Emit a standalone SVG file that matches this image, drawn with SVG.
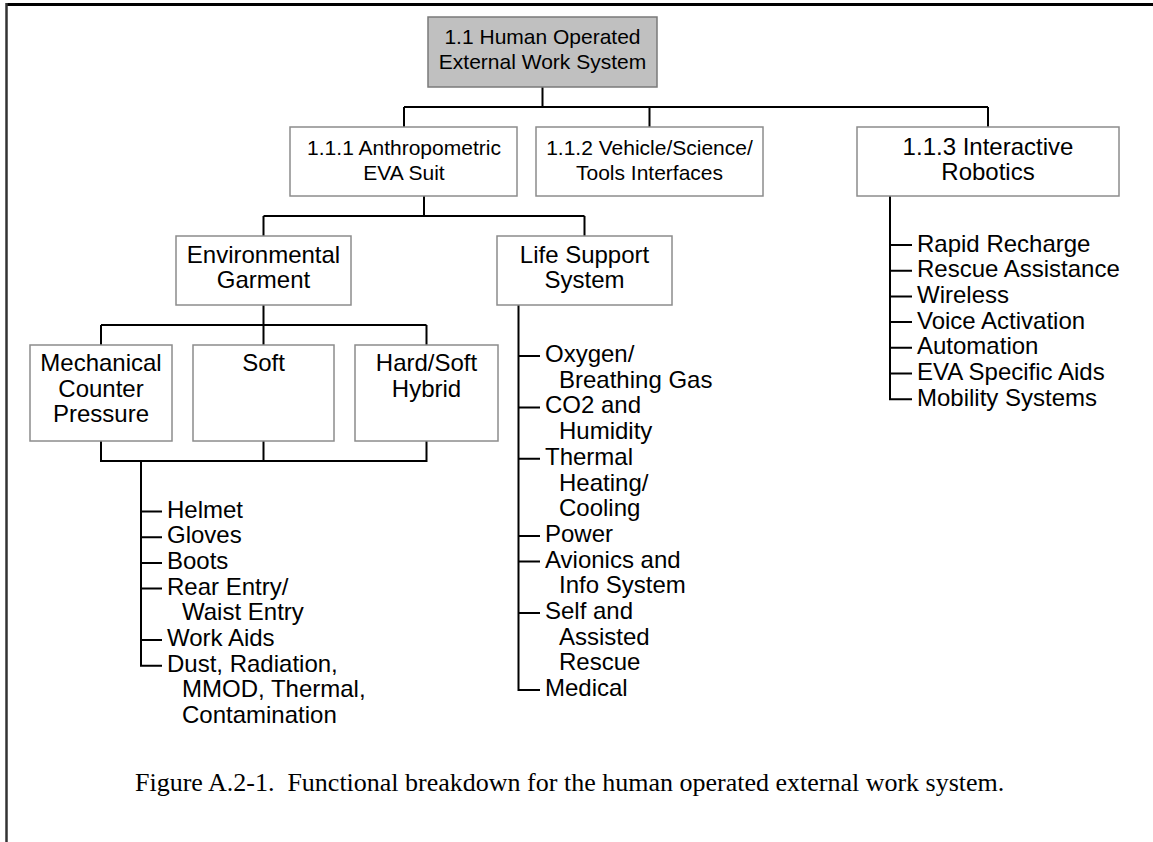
<svg xmlns="http://www.w3.org/2000/svg" width="1153" height="842" viewBox="0 0 1153 842">
<style>
.box{fill:#ffffff;stroke:#8c8c8c;stroke-width:1.5}
.root{fill:#c0c0c0;stroke:#7a7a7a;stroke-width:1.5}
.t{font-family:"Liberation Sans",Arial,Helvetica,sans-serif;font-size:21px;fill:#000}
.b{font-family:"Liberation Sans",Arial,Helvetica,sans-serif;font-size:24px;fill:#000}
.c{text-anchor:middle}
.ln{fill:none;stroke:#000;stroke-width:2}
.cap{font-family:"Liberation Serif","Times New Roman",serif;font-size:26px;fill:#000}
</style>
<rect width="1153" height="842" fill="#fff"/>
<g id="frame">
<path d="M6 4.5 H1153" stroke="#000" stroke-width="3"/>
<path d="M6.5 3 V842" stroke="#333" stroke-width="2.5"/>
</g>
<g id="connectors" class="ln">
<path d="M542.5 87 V107 M404 107 H988 M404 107 V127 M649.5 107 V127 M988 107 V127"/>
<path d="M424 196 V216 M263.5 216 H584.5 M263.5 216 V236 M584.5 216 V236"/>
<path d="M263.5 305 V325 M101 325 H426.5 M101 325 V345 M263.5 325 V345 M426.5 325 V345"/>
<path d="M101 441 V461 H426.5 V441 M263.5 441 V461"/>
<path d="M141 461 V665.7 H162 M141 511.5 H162 M141 537.2 H162 M141 562.9 H162 M141 588.6 H162 M141 640 H162"/>
<path d="M518.5 305 V690.1 H540 M518.5 356 H540 M518.5 407.4 H540 M518.5 458.8 H540 M518.5 535.9 H540 M518.5 561.6 H540 M518.5 613 H540"/>
<path d="M890 196 V399.2 H912 M890 245 H912 M890 270.7 H912 M890 296.4 H912 M890 322.1 H912 M890 347.8 H912 M890 373.5 H912"/>
</g>
<g id="n11">
<rect class="root" x="428" y="17" width="229" height="70"/>
<text class="t c" x="542.5" y="44">1.1 Human Operated</text>
<text class="t c" x="542.5" y="69">External Work System</text>
</g>
<g id="n111">
<rect class="box" x="290" y="127" width="227" height="69"/>
<text class="t c" x="404" y="155">1.1.1 Anthropometric</text>
<text class="t c" x="404" y="180">EVA Suit</text>
</g>
<g id="n112">
<rect class="box" x="536" y="127" width="227" height="69"/>
<text class="t c" x="649.5" y="155">1.1.2 Vehicle/Science/</text>
<text class="t c" x="649.5" y="180">Tools Interfaces</text>
</g>
<g id="n113">
<rect class="box" x="857" y="127" width="262" height="69"/>
<text class="b c" x="988" y="155">1.1.3 Interactive</text>
<text class="b c" x="988" y="180">Robotics</text>
</g>
<g id="nEG">
<rect class="box" x="176" y="236" width="175" height="69"/>
<text class="b c" x="263.5" y="263">Environmental</text>
<text class="b c" x="263.5" y="287.5">Garment</text>
</g>
<g id="nLSS">
<rect class="box" x="497" y="236" width="175" height="69"/>
<text class="b c" x="584.5" y="263">Life Support</text>
<text class="b c" x="584.5" y="287.5">System</text>
</g>
<g id="nMCP">
<rect class="box" x="30" y="345" width="142" height="96"/>
<text class="b c" x="101" y="371">Mechanical</text>
<text class="b c" x="101" y="396.7">Counter</text>
<text class="b c" x="101" y="422.4">Pressure</text>
</g>
<g id="nSoft">
<rect class="box" x="193" y="345" width="141" height="96"/>
<text class="b c" x="263.5" y="371">Soft</text>
</g>
<g id="nHS">
<rect class="box" x="355" y="345" width="143" height="96"/>
<text class="b c" x="426.5" y="371">Hard/Soft</text>
<text class="b c" x="426.5" y="396.7">Hybrid</text>
</g>
<g id="garmentItems" class="b">
<text x="167" y="517.5">Helmet</text>
<text x="167" y="543.2">Gloves</text>
<text x="167" y="568.9">Boots</text>
<text x="167" y="594.6">Rear Entry/</text>
<text x="182" y="620.3">Waist Entry</text>
<text x="167" y="646">Work Aids</text>
<text x="167" y="671.7">Dust, Radiation,</text>
<text x="182" y="697.4">MMOD, Thermal,</text>
<text x="182" y="723.1">Contamination</text>
</g>
<g id="lssItems" class="b">
<text x="545" y="362">Oxygen/</text>
<text x="559" y="387.7">Breathing Gas</text>
<text x="545" y="413.4">CO2 and</text>
<text x="559" y="439.1">Humidity</text>
<text x="545" y="464.8">Thermal</text>
<text x="559" y="490.5">Heating/</text>
<text x="559" y="516.2">Cooling</text>
<text x="545" y="541.9">Power</text>
<text x="545" y="567.6">Avionics and</text>
<text x="559" y="593.3">Info System</text>
<text x="545" y="619">Self and</text>
<text x="559" y="644.7">Assisted</text>
<text x="559" y="670.4">Rescue</text>
<text x="545" y="696.1">Medical</text>
</g>
<g id="roboticsItems" class="b">
<text x="917" y="251.5">Rapid Recharge</text>
<text x="917" y="277.2">Rescue Assistance</text>
<text x="917" y="302.9">Wireless</text>
<text x="917" y="328.6">Voice Activation</text>
<text x="917" y="354.3">Automation</text>
<text x="917" y="380">EVA Specific Aids</text>
<text x="917" y="405.7">Mobility Systems</text>
</g>
<g id="caption">
<text class="cap" x="135" y="791" xml:space="preserve">Figure A.2-1.  Functional breakdown for the human operated external work system.</text>
</g>
</svg>
